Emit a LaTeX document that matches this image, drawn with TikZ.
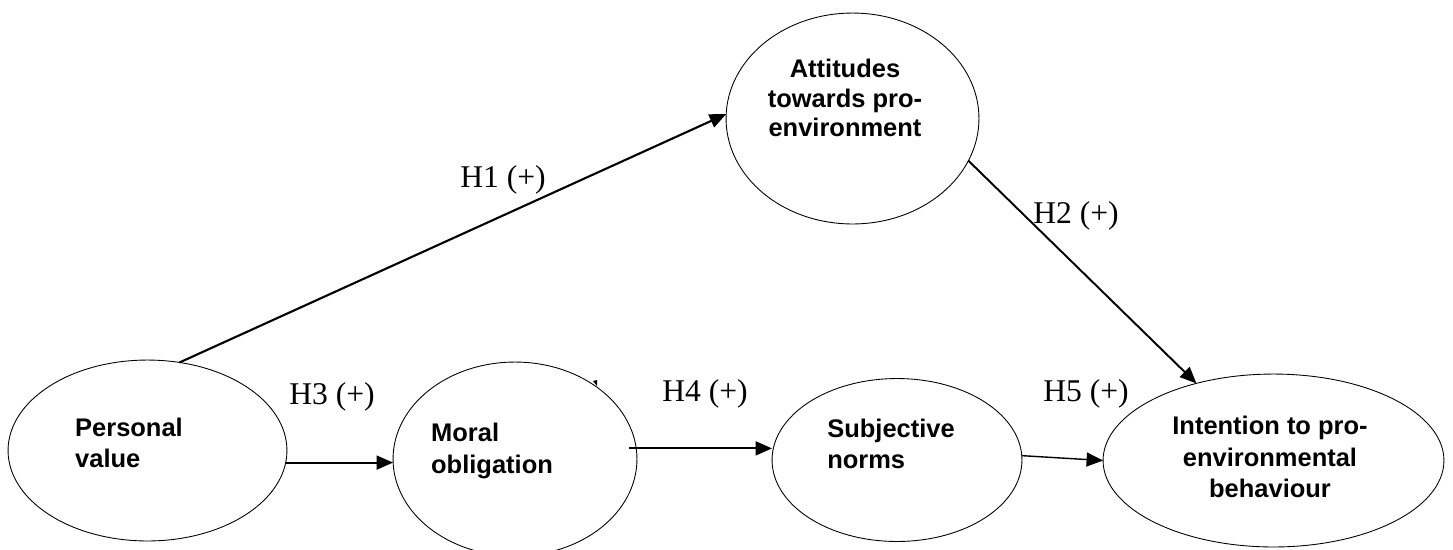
\documentclass[tikz,border=0pt]{standalone}
\usepackage{fontspec}
\setmainfont{Liberation Serif}
\newfontfamily\ovalfont{Liberation Sans}
\usetikzlibrary{shapes.geometric,arrows.meta}

\begin{document}
\begin{tikzpicture}[x=0.02cm,y=-0.02cm,
    >={Triangle[length=0.33cm,width=0.28cm]},
    oval/.style 2 args={draw,ellipse,line width=0.5pt,inner sep=0pt,outer sep=0pt,minimum width=#1*0.04cm,minimum height=#2*0.04cm},
    txt/.style={inner sep=0pt,font=\ovalfont\bfseries\fontsize{14.5}{18}\selectfont},
    hyp/.style={inner sep=0pt,font=\fontsize{18}{22}\selectfont}]
    \useasboundingbox (0,0) rectangle (1453,549);

    \node[oval={139.5}{90.5}](pv)at(147.5,450.5){};
    \node[oval={122}{97}](mo)at(515,459){};
    \node[oval={125}{81.5}](sn)at(897,460){};
    \node[oval={170.5}{86.5}](int)at(1273.5,460.5){};
    \node[oval={126.5}{105.5}](att)at(852.5,118.5){};

    \node[txt,align=left](pvtext)at(129,442.7){Personal\\value};
    \node[txt,align=left](motext)at(492,451){Moral\\obligation};
    \node[txt,align=left](sntext)at(891,443.7){Subjective\\norms};
    \node[txt,align=center,font=\ovalfont\bfseries\fontsize{14.5}{16.8}\selectfont](atttext)at(845,98){Attitudes\\towards pro-\\environment};
    \node[txt,align=center](inttext)at(1270,457){Intention to pro-\\environmental\\behaviour};

    \node[hyp](h1)at(503,180){H1 (+)};
    \node[hyp](h2)at(1076,216){H2 (+)};
    \node[hyp](h3)at(332,397){H3 (+)};
    \node[hyp](h4)at(705,394){H4 (+)};
    \node[hyp](h5)at(1086,394){H5 (+)};

    \draw[->,line width=1.2pt](pv.70)--(att.178);
    \draw[->,line width=1.1pt](att.-20)--(int.135);
    \draw[->,line width=1.1pt](pv.-5)--(pv.-5 -| mo.west);
    \draw[->,line width=1.1pt]([xshift=-0.14cm]mo.5)--(mo.5 -| sn.west);
    \draw[->,line width=0.8pt](sn.2)--(int.west);

    \fill(593,381)--(597,380)--(597,386)--cycle;
\end{tikzpicture}
\end{document}
